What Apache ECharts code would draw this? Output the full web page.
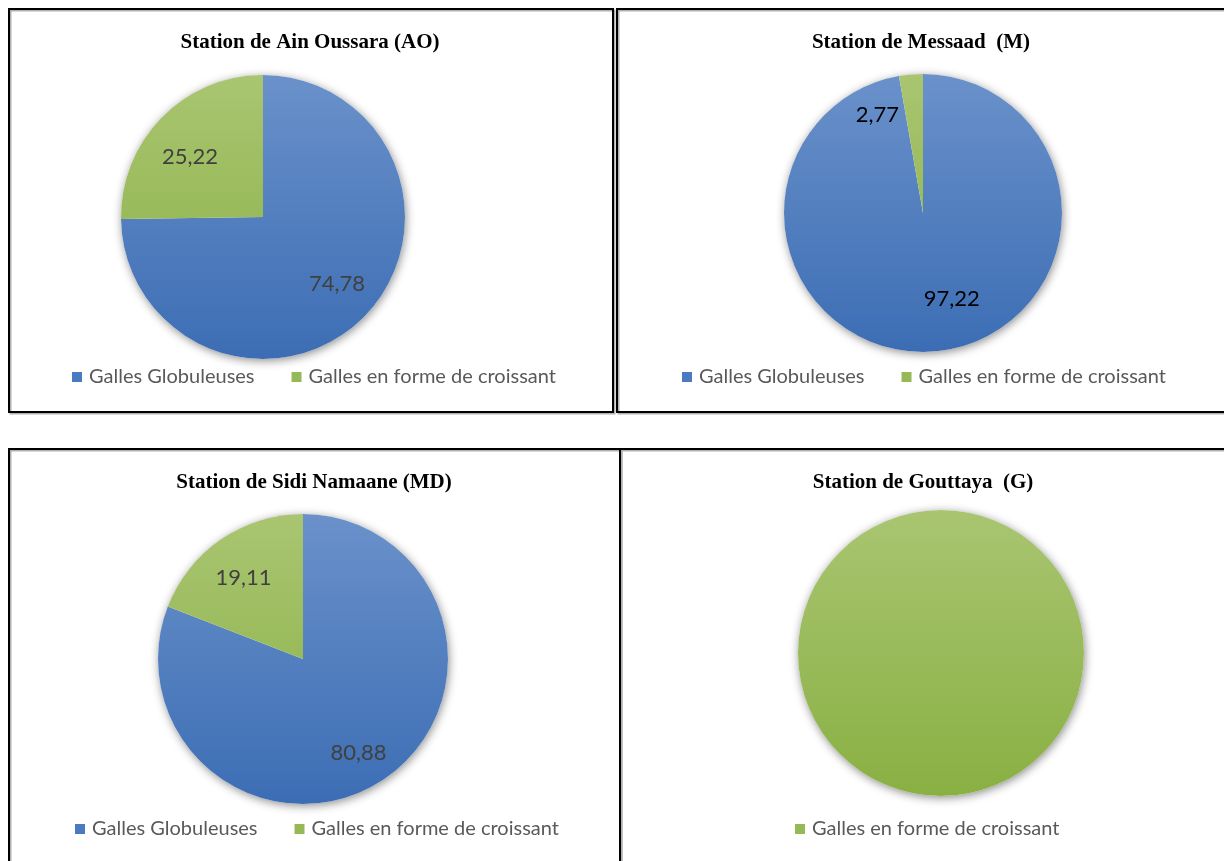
<!DOCTYPE html>
<html><head><meta charset="utf-8">
<script src="https://cdn.jsdelivr.net/npm/echarts@6/dist/echarts.min.js"></script>
<style>html,body{margin:0;padding:0;background:#fff}#c{width:1224px;height:861px}</style>
</head><body><div id="c"></div>
<script>
// ---- data ----
const categories = ['Galles Globuleuses', 'Galles en forme de croissant'];
const titles = ['Station de Ain Oussara (AO)', 'Station de Messaad  (M)', 'Station de Sidi Namaane (MD)', 'Station de Gouttaya  (G)'];
const globuleuses = [74.78, 97.22, 80.88, 0];
const croissant = [25.22, 2.77, 19.11, 100];
const legendItems = [categories, categories, categories, [categories[1]]];

// ---- layout ----
const panels = [
  {center: [263, 217], r: 142, title: [310, 43], legend: [72, 368], labelR: 0.42, fontColor: '#404040', shift: [[0, -6], [1, 13]]},
  {center: [923, 213], r: 139, title: [921, 43], legend: [682, 368], labelR: 0.4, fontColor: '#000000', shift: [[20, -14], [-37, 2]]},
  {center: [303, 659], r: 145, title: [314, 483], legend: [75, 820], labelR: 0.46, fontColor: '#404040', shift: [[-6, 4], [2, 9]]},
  {center: [941, 653], r: 143, title: [923, 483], legend: [795, 820], labelR: 0.42, fontColor: '#404040', shift: [[0, 0], [0, 0]]}
];
const blueStops = ['#6a91ca', '#3c6db4'];
const greenStops = ['#a9c571', '#89b043'];

const chart = echarts.init(document.getElementById('c'), null, {renderer: 'canvas'});
const fmt = v => v.toFixed(2).replace('.', ',');

function grad(p, stops) {
  return new echarts.graphic.LinearGradient(0, p.center[1] - p.r, 0, p.center[1] + p.r,
    [{offset: 0, color: stops[0]}, {offset: 1, color: stops[1]}], true);
}

const series = [];
const legends = [];
const graphics = [];

// panel borders
const frames = [
  {x: 9, y: 9, w: 604, h: 403},
  {x: 617, y: 9, w: 620, h: 403},
  {x: 9, y: 449, w: 611, h: 430},
  {x: 620, y: 449, w: 620, h: 430}
];
frames.forEach(f => {
  graphics.push({type: 'rect', shape: {x: f.x + 1.5, y: f.y + 1.5, width: f.w, height: f.h},
    style: {fill: 'none', stroke: '#b0b0b0', lineWidth: 2}, z: 1});
  graphics.push({type: 'rect', shape: {x: f.x, y: f.y, width: f.w, height: f.h},
    style: {fill: 'none', stroke: '#000', lineWidth: 2}, z: 2});
});

panels.forEach((p, i) => {
  graphics.push({type: 'text', x: p.title[0], y: p.title[1], z: 5,
    style: {text: titles[i], fill: '#000', font: 'bold 21px "Liberation Serif", "DejaVu Serif", serif',
      textAlign: 'center', textVerticalAlign: 'middle'}});

  // background shadow disk
  series.push({type: 'pie', center: p.center, radius: [0, p.r], silent: true, z: 1,
    startAngle: 90, clockwise: true, label: {show: false}, labelLine: {show: false},
    itemStyle: {color: '#ffffff', shadowBlur: 10, shadowColor: 'rgba(0,0,0,0.45)', shadowOffsetX: 1, shadowOffsetY: 2},
    data: [{name: '_bg' + i, value: 1}], emphasis: {disabled: true}, animation: false});

  const data = [
    {name: categories[0], value: globuleuses[i], itemStyle: {color: grad(p, blueStops)}},
    {name: categories[1], value: croissant[i], itemStyle: {color: grad(p, greenStops)}}
  ];
  series.push({type: 'pie', center: p.center, radius: [0, p.r], z: 2, startAngle: 90, clockwise: true,
    label: {show: false}, labelLine: {show: false}, itemStyle: {borderWidth: 0},
    emphasis: {disabled: true}, animation: false,
    data: data});

  // label overlay (transparent) to place labels inside the slices
  series.push({type: 'pie', center: p.center, radius: [p.r * p.labelR, p.r], z: 3, startAngle: 90, clockwise: true,
    silent: true, emphasis: {disabled: true}, animation: false,
    itemStyle: {color: 'rgba(0,0,0,0)'},
    label: {show: i !== 3, position: 'inside', color: p.fontColor, fontSize: 22, fontFamily: 'Lato, "Open Sans", sans-serif',
      formatter: prm => fmt(prm.value)},
    labelLine: {show: false},
    labelLayout: prm => ({dx: p.shift[prm.dataIndex][0], dy: p.shift[prm.dataIndex][1]}),
    data: [
      {name: categories[0], value: globuleuses[i], label: {show: i !== 3 && globuleuses[i] > 0}},
      {name: categories[1], value: croissant[i], label: {show: i !== 3}}
    ]});

  legends.push({left: p.legend[0], top: p.legend[1] - 1, orient: 'horizontal', itemWidth: 10, itemHeight: 10, itemGap: 37,
    icon: 'rect', selectedMode: false, padding: 0,
    textStyle: {color: '#595959', fontSize: 20, fontFamily: 'Lato, "Open Sans", sans-serif', padding: [0, 0, 0, 2]},
    data: legendItems[i].map(n => ({name: n, itemStyle: {color: n === categories[0] ? '#4a7abf' : '#96b958'}}))});
});

chart.setOption({
  animation: false,
  backgroundColor: '#ffffff',
  legend: legends,
  series: series,
  graphic: graphics
});
</script></body></html>
